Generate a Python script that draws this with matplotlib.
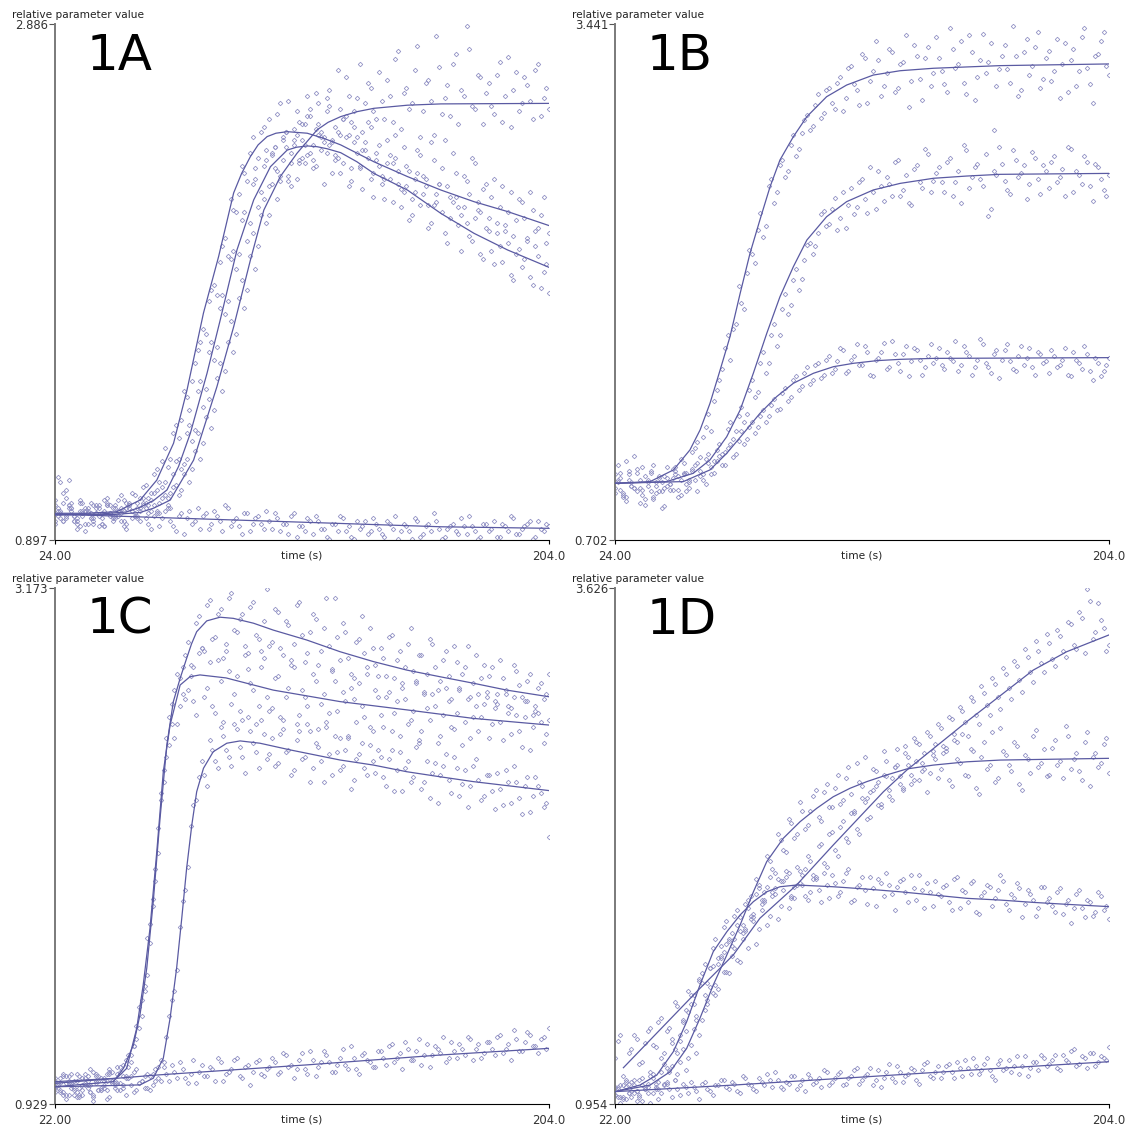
import matplotlib.pyplot as plt
import numpy as np

W, H = 1133, 1128
DOT = '#9494c6'
LINE = '#5a5aa2'

# sampling times of the measured points (even and odd seconds)
t_ab = np.arange(24, 205, 2)
t_ab2 = np.arange(25, 204, 2)
t_cd = np.arange(22, 205, 2)
t_cd2 = np.arange(23, 204, 2)

# ---- panel 1A: measured points ----
a0_pts = [1.05, 1.12, 1.09, 1.02, 0.98, 1.01, 0.96, 1.03, 0.99, 0.95, 1.00, 1.02, 0.97, 0.94, 1.01, 0.98, 1.03, 0.96, 0.99,
          0.95, 1.01, 0.97, 0.93, 1.00, 0.98, 0.96, 1.02, 0.99, 0.94, 1.01, 0.97, 1.03, 0.95, 0.98, 0.92, 1.00, 0.96, 0.99, 0.94,
          0.97, 1.00, 0.93, 0.96, 0.99, 0.91, 0.95, 0.98, 0.92, 0.97, 0.94, 0.90, 0.96, 0.99, 0.93, 0.91, 0.97, 0.95, 0.92, 0.98,
          0.94, 0.91, 0.96, 0.99, 0.93, 0.95, 0.90, 0.97, 0.92, 0.96, 1.00, 0.94, 0.91, 0.95, 0.93, 0.98, 0.92, 0.95, 0.90, 0.96,
          0.93, 0.97, 0.91, 0.95, 0.99, 0.92, 0.94, 0.96, 0.90, 0.97, 0.93, 0.95]
a0_pts2 = [1.14, 1.08, 1.13, 0.97, 1.04, 0.93, 1.00, 1.02, 0.96, 1.04, 0.98, 1.01, 0.95, 1.03, 0.99, 0.97, 1.02, 0.94, 1.00,
           0.98, 1.03, 0.95, 0.99, 0.92, 1.01, 0.97, 0.94, 1.00, 0.96, 0.99, 0.93, 1.02, 0.97, 0.95, 1.00, 0.93, 0.98, 0.96, 1.01,
           0.94, 0.98, 0.96, 0.92, 1.00, 0.95, 0.93, 0.97, 0.99, 0.94, 0.91, 0.96, 0.93, 0.98, 0.95, 0.90, 0.94, 0.97, 0.93, 0.96,
           0.92, 0.97, 0.94, 0.90, 0.96, 0.93, 0.98, 0.91, 0.95, 0.93, 0.97, 0.90, 0.94, 0.96, 0.92, 0.95, 0.99, 0.93, 0.91, 0.96,
           0.94, 0.91, 0.96, 0.93, 0.98, 0.92, 0.95, 0.97, 0.91, 0.94, 0.96]
a1_pts = [1.03, 0.98, 1.06, 1.01, 0.97, 1.04, 1.00, 0.96, 1.02, 1.05, 0.99, 1.03, 1.07, 1.02, 1.08, 1.04, 1.10, 1.06, 1.15,
          1.12, 1.25, 1.21, 1.34, 1.36, 1.45, 1.51, 1.63, 1.71, 1.82, 1.88, 1.97, 2.06, 2.21, 2.16, 2.34, 2.28, 2.45, 2.37, 2.49,
          2.52, 2.41, 2.58, 2.47, 2.39, 2.55, 2.44, 2.61, 2.36, 2.50, 2.43, 2.57, 2.38, 2.46, 2.53, 2.33, 2.45, 2.40, 2.51, 2.31,
          2.42, 2.29, 2.38, 2.46, 2.25, 2.34, 2.21, 2.40, 2.30, 2.19, 2.36, 2.27, 2.44, 2.22, 2.31, 2.15, 2.28, 2.37, 2.20, 2.25,
          2.14, 2.29, 2.18, 2.09, 2.24, 2.13, 2.20, 2.05, 2.17, 2.10, 2.22, 2.08]
a1_pts2 = [0.99, 1.04, 1.02, 0.97, 1.05, 1.01, 0.98, 1.03, 1.00, 1.06, 1.02, 0.99, 1.05, 1.03, 1.07, 1.01, 1.11, 1.08, 1.17,
           1.20, 1.18, 1.31, 1.29, 1.47, 1.40, 1.58, 1.66, 1.69, 1.86, 1.84, 2.03, 1.99, 2.17, 2.23, 2.31, 2.39, 2.33, 2.47, 2.40,
           2.38, 2.54, 2.45, 2.59, 2.42, 2.51, 2.35, 2.56, 2.48, 2.40, 2.60, 2.44, 2.37, 2.52, 2.46, 2.55, 2.34, 2.43, 2.49, 2.39,
           2.30, 2.44, 2.35, 2.27, 2.41, 2.32, 2.24, 2.38, 2.29, 2.43, 2.20, 2.33, 2.26, 2.39, 2.18, 2.30, 2.23, 2.35, 2.16, 2.27,
           2.22, 2.12, 2.26, 2.16, 2.07, 2.21, 2.14, 2.24, 2.09, 2.15, 2.04]
a2_pts = [0.97, 1.01, 0.99, 1.04, 0.96, 1.00, 1.02, 0.98, 0.95, 1.01, 1.03, 0.99, 1.00, 1.04, 0.98, 1.02, 1.06, 1.03, 1.08,
          1.04, 1.12, 1.08, 1.20, 1.17, 1.31, 1.28, 1.47, 1.41, 1.62, 1.59, 1.79, 1.77, 1.98, 1.94, 2.13, 2.05, 2.27, 2.18, 2.34,
          2.26, 2.41, 2.30, 2.47, 2.35, 2.29, 2.50, 2.38, 2.33, 2.46, 2.27, 2.42, 2.36, 2.31, 2.45, 2.28, 2.39, 2.25, 2.37, 2.22,
          2.34, 2.21, 2.29, 2.37, 2.18, 2.26, 2.15, 2.31, 2.23, 2.10, 2.19, 2.27, 2.08, 2.14, 2.22, 2.01, 2.12, 2.05, 2.17, 1.98,
          2.09, 1.96, 2.03, 2.11, 1.92, 2.00, 1.95, 2.06, 1.88, 1.99, 1.93, 1.85]
a2_pts2 = [1.02, 0.97, 1.03, 0.99, 1.01, 0.96, 1.04, 1.00, 0.98, 1.03, 0.97, 1.05, 1.01, 1.02, 0.99, 1.06, 1.04, 1.01, 1.09,
           1.10, 1.06, 1.15, 1.21, 1.19, 1.34, 1.32, 1.51, 1.48, 1.66, 1.64, 1.84, 1.82, 2.01, 2.00, 2.16, 2.12, 2.29, 2.24, 2.36,
           2.39, 2.32, 2.44, 2.28, 2.48, 2.36, 2.42, 2.53, 2.34, 2.45, 2.39, 2.31, 2.47, 2.35, 2.26, 2.43, 2.33, 2.40, 2.29, 2.36,
           2.27, 2.35, 2.20, 2.32, 2.24, 2.13, 2.29, 2.19, 2.26, 2.12, 2.23, 2.16, 2.04, 2.20, 2.11, 2.18, 2.07, 2.14, 2.00, 2.10,
           2.01, 2.08, 1.97, 2.04, 1.90, 2.02, 1.98, 1.91, 2.03, 1.87, 1.96]
a3_pts = [0.96, 1.00, 0.98, 1.02, 0.94, 0.99, 1.01, 0.97, 1.03, 0.95, 1.00, 0.98, 1.02, 0.96, 1.01, 0.99, 1.04, 1.00, 1.03,
          1.00, 1.07, 1.02, 1.11, 1.09, 1.21, 1.17, 1.31, 1.27, 1.44, 1.40, 1.58, 1.55, 1.74, 1.69, 1.90, 1.86, 2.08, 2.03, 2.21,
          2.15, 2.33, 2.28, 2.41, 2.26, 2.46, 2.37, 2.53, 2.42, 2.58, 2.45, 2.63, 2.49, 2.56, 2.68, 2.51, 2.60, 2.47, 2.66, 2.55,
          2.70, 2.52, 2.61, 2.75, 2.48, 2.64, 2.58, 2.80, 2.55, 2.67, 2.46, 2.72, 2.60, 2.53, 2.77, 2.63, 2.88, 2.57, 2.69, 2.50,
          2.66, 2.54, 2.74, 2.61, 2.49, 2.70, 2.58, 2.65, 2.52, 2.73, 2.60, 2.56]
a3_pts2 = [1.01, 0.97, 1.03, 0.99, 0.95, 1.02, 0.98, 1.00, 0.96, 1.03, 0.99, 1.01, 0.97, 1.04, 1.00, 1.02, 0.98, 1.05, 1.01,
           1.06, 1.02, 1.10, 1.07, 1.15, 1.12, 1.24, 1.21, 1.37, 1.33, 1.52, 1.47, 1.66, 1.62, 1.83, 1.79, 1.99, 1.94, 2.15, 2.12,
           2.27, 2.21, 2.36, 2.30, 2.44, 2.35, 2.50, 2.39, 2.62, 2.47, 2.55, 2.43, 2.71, 2.52, 2.61, 2.49, 2.73, 2.58, 2.64, 2.52,
           2.59, 2.67, 2.51, 2.78, 2.62, 2.56, 2.71, 2.45, 2.66, 2.59, 2.84, 2.54, 2.65, 2.73, 2.50, 2.61, 2.79, 2.56, 2.68, 2.62,
           2.57, 2.69, 2.51, 2.76, 2.63, 2.55, 2.68, 2.59, 2.71, 2.53, 2.64]

# ---- panel 1A: fitted curves ----
a0_fit_t = [24, 63.5, 116, 164.6, 204]
a0_fit_v = [0.997, 0.983, 0.965, 0.948, 0.942]
a1_fit_t = [24, 35, 46.5, 55, 61.1, 67.2, 72.1, 78.1, 83.6, 89.1, 92, 95.2, 98, 101.3, 104.5, 108.6, 115.9, 122, 128.1, 140.2, 152.4, 164.6, 176.7, 188.9, 204]
a1_fit_v = [1.000, 1.000, 1.006, 1.051, 1.128, 1.27, 1.475, 1.772, 1.989, 2.235, 2.31, 2.375, 2.42, 2.452, 2.465, 2.471, 2.465, 2.445, 2.420, 2.355, 2.298, 2.246, 2.201, 2.163, 2.109]
a2_fit_t = [24, 40, 50, 55, 60, 64.8, 69, 73.3, 79.4, 84.2, 90.3, 96.4, 102.5, 108.6, 112, 115.9, 119.5, 123.2, 128.1, 134, 140.2, 152.4, 164.6, 176.7, 188.9, 204]
a2_fit_v = [0.995, 0.997, 1.005, 1.023, 1.05, 1.090, 1.18, 1.308, 1.540, 1.745, 2.015, 2.208, 2.336, 2.400, 2.411, 2.416, 2.413, 2.405, 2.39, 2.355, 2.31, 2.246, 2.156, 2.079, 2.015, 1.948]
a3_fit_t = [24, 45, 55, 60, 66.0, 74.5, 83.0, 89.1, 95.2, 100.1, 106.1, 112.2, 119.5, 123.5, 128.1, 134, 140.2, 152.4, 164.6, 204]
a3_fit_v = [0.993, 0.995, 1.003, 1.02, 1.051, 1.205, 1.488, 1.719, 1.976, 2.169, 2.298, 2.388, 2.478, 2.507, 2.529, 2.548, 2.561, 2.573, 2.578, 2.580]

# ---- panel 1B: measured points ----
b1_pts = [1.05, 0.97, 1.12, 0.99, 1.08, 0.94, 1.02, 1.10, 0.96, 1.04, 1.00, 1.07, 1.13, 1.06, 1.17, 1.22, 1.25, 1.37, 1.44,
          1.55, 1.72, 1.66, 1.85, 1.96, 2.12, 2.22, 2.35, 2.31, 2.58, 2.49, 2.69, 2.63, 2.80, 2.74, 2.86, 2.96, 2.90, 3.07, 2.97,
          3.10, 2.99, 3.16, 3.05, 3.22, 3.09, 3.28, 3.02, 3.19, 3.25, 3.11, 3.31, 3.08, 3.23, 3.38, 3.14, 3.27, 3.04, 3.32, 3.18,
          3.26, 3.12, 3.42, 3.21, 3.35, 3.07, 3.29, 3.16, 3.39, 3.24, 2.88, 3.20, 3.33, 3.13, 3.27, 3.09, 3.36, 3.22, 3.40, 3.15,
          3.30, 3.19, 3.05, 3.34, 3.25, 3.11, 3.37, 3.21, 3.02, 3.28, 3.40, 3.17]
b1_pts2 = [1.10, 0.93, 1.02, 1.15, 0.98, 0.89, 1.06, 0.95, 1.01, 1.09, 0.97, 1.04, 1.11, 1.02, 1.19, 1.14, 1.30, 1.28, 1.50,
           1.61, 1.79, 1.82, 2.05, 1.93, 2.24, 2.17, 2.44, 2.37, 2.62, 2.55, 2.72, 2.66, 2.85, 2.78, 2.93, 2.88, 3.01, 2.94, 3.09,
           3.02, 3.13, 2.98, 3.21, 3.12, 3.01, 3.26, 3.14, 3.35, 3.06, 3.18, 3.29, 3.10, 3.24, 3.00, 3.33, 3.15, 3.26, 3.11, 3.37,
           3.19, 3.08, 3.31, 3.23, 3.13, 3.38, 3.04, 3.25, 3.18, 3.34, 3.11, 3.27, 3.20, 3.43, 3.06, 3.29, 3.17, 3.32, 3.10, 3.26,
           3.14, 3.36, 3.23, 3.08, 3.31, 3.19, 3.42, 3.12, 3.27, 3.35, 3.22]
b2_pts = [0.95, 1.03, 0.91, 0.99, 1.06, 0.97, 1.01, 0.93, 1.04, 0.98, 1.00, 1.09, 1.02, 0.96, 1.07, 1.11, 1.05, 1.16, 1.12,
          1.21, 1.17, 1.33, 1.28, 1.41, 1.37, 1.55, 1.49, 1.70, 1.64, 1.85, 1.79, 2.01, 1.95, 2.14, 2.09, 2.27, 2.22, 2.33, 2.45,
          2.38, 2.52, 2.41, 2.36, 2.57, 2.47, 2.62, 2.44, 2.55, 2.66, 2.50, 2.59, 2.71, 2.53, 2.64, 2.48, 2.69, 2.57, 2.75, 2.61,
          2.68, 2.55, 2.73, 2.60, 2.49, 2.77, 2.63, 2.70, 2.58, 2.42, 2.66, 2.79, 2.61, 2.54, 2.72, 2.65, 2.51, 2.76, 2.62, 2.69,
          2.57, 2.74, 2.63, 2.53, 2.78, 2.66, 2.59, 2.71, 2.50, 2.68, 2.56, 2.64]
b2_pts2 = [1.01, 0.94, 1.05, 0.98, 1.02, 0.92, 1.07, 0.99, 0.96, 1.03, 1.08, 0.97, 1.05, 1.01, 1.10, 1.04, 1.13, 1.09, 1.18,
           1.16, 1.29, 1.24, 1.36, 1.33, 1.50, 1.46, 1.64, 1.59, 1.79, 1.73, 1.93, 1.90, 2.08, 2.03, 2.19, 2.28, 2.26, 2.43, 2.37,
           2.46, 2.35, 2.55, 2.48, 2.43, 2.60, 2.51, 2.68, 2.46, 2.58, 2.63, 2.53, 2.72, 2.56, 2.49, 2.67, 2.60, 2.78, 2.55, 2.65,
           2.60, 2.71, 2.53, 2.66, 2.80, 2.57, 2.68, 2.62, 2.75, 2.46, 2.64, 2.70, 2.56, 2.77, 2.63, 2.69, 2.59, 2.73, 2.54, 2.66,
           2.71, 2.60, 2.67, 2.79, 2.55, 2.64, 2.74, 2.58, 2.70, 2.62, 2.53]
b3_pts = [0.98, 1.06, 0.93, 1.01, 0.96, 1.09, 0.99, 0.92, 1.03, 0.88, 0.97, 1.05, 0.94, 1.00, 1.08, 0.96, 1.02, 1.11, 1.06,
          1.15, 1.10, 1.21, 1.16, 1.28, 1.24, 1.33, 1.30, 1.39, 1.36, 1.45, 1.40, 1.51, 1.46, 1.57, 1.52, 1.62, 1.55, 1.64, 1.58,
          1.68, 1.61, 1.72, 1.59, 1.66, 1.74, 1.63, 1.70, 1.57, 1.67, 1.75, 1.62, 1.69, 1.60, 1.73, 1.65, 1.71, 1.58, 1.68, 1.64,
          1.72, 1.61, 1.67, 1.76, 1.63, 1.70, 1.58, 1.66, 1.74, 1.62, 1.69, 1.56, 1.71, 1.65, 1.60, 1.73, 1.67, 1.62, 1.70, 1.64,
          1.59, 1.68, 1.63, 1.72, 1.57, 1.66, 1.61, 1.69, 1.55, 1.64, 1.60, 1.67]
b3_pts2 = [1.02, 0.95, 1.07, 0.98, 0.90, 1.04, 0.96, 1.01, 0.87, 0.99, 1.03, 0.93, 1.06, 0.98, 1.02, 1.07, 1.00, 1.05, 1.12,
           1.10, 1.19, 1.14, 1.23, 1.21, 1.30, 1.27, 1.36, 1.33, 1.42, 1.39, 1.48, 1.44, 1.55, 1.50, 1.59, 1.53, 1.63, 1.56, 1.66,
           1.59, 1.65, 1.71, 1.60, 1.68, 1.63, 1.73, 1.58, 1.66, 1.70, 1.61, 1.76, 1.64, 1.69, 1.57, 1.72, 1.66, 1.62, 1.74, 1.67,
           1.63, 1.70, 1.65, 1.60, 1.73, 1.68, 1.62, 1.77, 1.64, 1.59, 1.71, 1.66, 1.74, 1.61, 1.68, 1.63, 1.72, 1.58, 1.69, 1.65,
           1.71, 1.62, 1.66, 1.58, 1.70, 1.64, 1.73, 1.60, 1.67, 1.57, 1.63]

# ---- panel 1B: fitted curves ----
b1_fit_t = [24, 36.8, 45.3, 51.3, 55.0, 58.6, 62.3, 65.9, 69.6, 73.2, 76.8, 80.5, 84.1, 89.0, 93.9, 101.1, 108.4, 118.1, 127.9, 140.0, 164.3, 204]
b1_fit_v = [1.003, 1.012, 1.074, 1.18, 1.286, 1.427, 1.604, 1.781, 2.011, 2.224, 2.401, 2.577, 2.719, 2.843, 2.949, 3.055, 3.117, 3.170, 3.193, 3.206, 3.220, 3.229]
b2_fit_t = [24, 42.8, 52.5, 58.6, 64.7, 69.6, 74.4, 79.3, 84.1, 89.0, 93.9, 101.1, 108.4, 118.1, 127.9, 140.0, 152.2, 164.3, 204]
b2_fit_v = [1.003, 1.012, 1.056, 1.127, 1.250, 1.392, 1.587, 1.799, 1.993, 2.153, 2.294, 2.418, 2.498, 2.560, 2.595, 2.622, 2.634, 2.643, 2.648]
b3_fit_t = [24, 48.9, 58.6, 64.7, 70.8, 76.8, 82.9, 89.0, 96.3, 103.6, 110.9, 119.4, 127.9, 140.0, 204]
b3_fit_v = [1.003, 1.012, 1.074, 1.162, 1.268, 1.374, 1.463, 1.534, 1.587, 1.622, 1.640, 1.654, 1.661, 1.666, 1.670]

# ---- panel 1C: measured points ----
c0_pts = [1.04, 0.99, 1.02, 1.06, 0.98, 1.01, 1.05, 0.97, 1.03, 1.00, 1.07, 1.02, 0.99, 1.05, 1.01, 1.08, 1.03, 1.00, 1.06, 1.04,
          1.09, 1.03, 1.07, 1.11, 1.04, 1.06, 1.02, 1.10, 1.05, 1.08, 1.13, 1.03, 1.07, 1.12, 1.05, 1.09, 1.01, 1.11, 1.06, 1.08,
          1.13, 1.06, 1.15, 1.09, 1.04, 1.12, 1.08, 1.16, 1.05, 1.11, 1.14, 1.07, 1.10, 1.17, 1.08, 1.13, 1.06, 1.15, 1.11, 1.09,
          1.16, 1.10, 1.19, 1.13, 1.08, 1.17, 1.12, 1.21, 1.14, 1.09, 1.18, 1.15, 1.11, 1.20, 1.13, 1.17, 1.22, 1.12, 1.19, 1.15,
          1.20, 1.14, 1.23, 1.17, 1.12, 1.21, 1.16, 1.24, 1.18, 1.15, 1.22, 1.26]
c0_pts2 = [1.01, 1.05, 0.97, 1.03, 1.00, 1.06, 0.98, 1.02, 1.04, 0.99, 1.03, 1.06, 1.00, 1.04, 1.07, 1.02, 1.05, 0.99, 1.08, 1.03,
           1.06, 1.10, 1.04, 1.08, 1.02, 1.12, 1.07, 1.05, 1.09, 1.03, 1.11, 1.06, 1.08, 1.13, 1.04, 1.10, 1.07, 1.12, 1.05, 1.09,
           1.11, 1.07, 1.14, 1.10, 1.08, 1.15, 1.06, 1.12, 1.09, 1.16, 1.11, 1.07, 1.13, 1.10, 1.18, 1.08, 1.14, 1.12, 1.09, 1.16,
           1.13, 1.18, 1.11, 1.15, 1.20, 1.12, 1.16, 1.10, 1.19, 1.14, 1.17, 1.22, 1.13, 1.16, 1.19, 1.14, 1.21, 1.17, 1.13, 1.20,
           1.17, 1.22, 1.15, 1.19, 1.25, 1.16, 1.20, 1.23, 1.18, 1.21, 1.17]
c1_pts = [1.00, 1.04, 0.97, 1.02, 1.06, 0.99, 1.03, 0.96, 1.05, 1.01, 1.08, 1.03, 1.07, 1.12, 1.14, 1.21, 1.31, 1.49, 1.82, 2.02,
          2.38, 2.49, 2.73, 2.66, 2.88, 2.79, 3.02, 2.91, 3.10, 2.95, 3.06, 2.87, 3.13, 2.99, 3.04, 2.92, 3.09, 2.97, 2.90, 3.17,
          2.94, 3.07, 2.88, 3.01, 2.93, 3.11, 2.85, 2.98, 3.04, 2.90, 3.13, 2.82, 2.96, 3.02, 2.87, 2.78, 2.95, 2.89, 3.00, 2.84,
          2.91, 2.79, 2.97, 2.86, 2.74, 2.93, 2.81, 2.88, 2.72, 2.95, 2.83, 2.77, 2.90, 2.69, 2.85, 2.80, 2.92, 2.76, 2.71, 2.84,
          2.79, 2.68, 2.86, 2.73, 2.65, 2.81, 2.70, 2.77, 2.62, 2.74, 2.69, 2.80]
c1_pts2 = [1.02, 0.98, 1.05, 1.00, 0.97, 1.04, 1.01, 1.06, 0.99, 1.03, 1.07, 1.02, 1.10, 1.09, 1.18, 1.26, 1.42, 1.63, 1.95, 2.25,
           2.52, 2.58, 2.80, 2.71, 2.94, 2.83, 3.05, 2.90, 3.12, 2.96, 3.08, 2.93, 3.15, 2.98, 3.06, 2.89, 3.11, 2.95, 3.03, 2.92,
           3.08, 2.91, 3.03, 2.86, 3.10, 2.97, 2.89, 3.06, 2.84, 3.00, 2.92, 3.13, 2.86, 2.98, 2.80, 2.94, 3.05, 2.83, 2.91, 2.79,
           2.87, 2.96, 2.78, 2.90, 2.83, 3.00, 2.76, 2.88, 2.80, 2.93, 2.73, 2.86, 2.79, 2.92, 2.74, 2.83, 2.70, 2.88, 2.78, 2.72,
           2.83, 2.71, 2.78, 2.66, 2.84, 2.75, 2.68, 2.80, 2.64, 2.76, 2.71]
c2_pts = [1.03, 0.98, 1.05, 1.01, 0.96, 1.04, 1.00, 1.07, 0.99, 1.03, 1.06, 1.01, 1.09, 1.04, 1.11, 1.27, 1.38, 1.65, 1.79, 2.13,
          2.33, 2.61, 2.52, 2.78, 2.69, 2.84, 2.62, 2.91, 2.74, 2.66, 2.86, 2.59, 2.81, 2.71, 2.64, 2.88, 2.76, 2.58, 2.83, 2.70,
          2.65, 2.79, 2.60, 2.74, 2.83, 2.62, 2.70, 2.55, 2.77, 2.67, 2.59, 2.81, 2.64, 2.72, 2.53, 2.69, 2.76, 2.61, 2.57, 2.73,
          2.62, 2.70, 2.55, 2.68, 2.76, 2.58, 2.64, 2.51, 2.71, 2.60, 2.66, 2.53, 2.74, 2.57, 2.63, 2.49, 2.69, 2.61, 2.55, 2.67,
          2.52, 2.65, 2.59, 2.71, 2.54, 2.62, 2.48, 2.68, 2.57, 2.63, 2.50, 2.60]
c2_pts2 = [1.00, 1.06, 1.02, 0.97, 1.05, 1.01, 1.08, 1.03, 0.99, 1.06, 1.02, 1.09, 1.05, 1.14, 1.18, 1.35, 1.44, 1.71, 1.90, 2.28,
           2.44, 2.67, 2.58, 2.83, 2.73, 2.68, 2.89, 2.70, 2.85, 2.63, 2.77, 2.90, 2.67, 2.79, 2.60, 2.82, 2.73, 2.66, 2.87, 2.64,
           2.78, 2.61, 2.70, 2.84, 2.58, 2.73, 2.66, 2.80, 2.56, 2.71, 2.63, 2.77, 2.52, 2.68, 2.74, 2.59, 2.66, 2.80, 2.55, 2.70,
           2.57, 2.72, 2.63, 2.53, 2.69, 2.60, 2.77, 2.55, 2.65, 2.71, 2.50, 2.62, 2.68, 2.56, 2.73, 2.59, 2.52, 2.66, 2.61, 2.70,
           2.58, 2.67, 2.51, 2.63, 2.70, 2.55, 2.61, 2.47, 2.66, 2.59, 2.54]
c3_pts = [0.98, 1.02, 0.95, 1.00, 1.03, 0.97, 1.01, 0.94, 0.99, 1.04, 0.96, 1.00, 1.02, 0.97, 1.05, 0.99, 1.03, 1.06, 1.01, 1.09,
          1.11, 1.31, 1.42, 1.70, 1.86, 2.14, 2.25, 2.42, 2.31, 2.47, 2.39, 2.53, 2.44, 2.58, 2.48, 2.37, 2.55, 2.46, 2.60, 2.43,
          2.52, 2.41, 2.56, 2.47, 2.38, 2.55, 2.44, 2.33, 2.50, 2.42, 2.57, 2.36, 2.46, 2.40, 2.52, 2.34, 2.45, 2.39, 2.49, 2.37,
          2.44, 2.31, 2.47, 2.38, 2.29, 2.42, 2.35, 2.50, 2.33, 2.26, 2.41, 2.36, 2.45, 2.28, 2.39, 2.32, 2.22, 2.40, 2.34, 2.27,
          2.36, 2.21, 2.30, 2.38, 2.24, 2.33, 2.19, 2.35, 2.27, 2.31, 2.22, 2.09]
c3_pts2 = [1.01, 0.97, 1.03, 0.99, 0.96, 1.02, 0.98, 1.05, 1.00, 0.95, 1.03, 0.99, 1.01, 1.04, 0.98, 1.02, 1.00, 1.05, 1.03, 1.12,
           1.22, 1.38, 1.51, 1.81, 1.96, 2.23, 2.35, 2.36, 2.51, 2.42, 2.57, 2.47, 2.40, 2.56, 2.44, 2.61, 2.50, 2.39, 2.54, 2.45,
           2.40, 2.54, 2.46, 2.36, 2.51, 2.43, 2.58, 2.39, 2.48, 2.33, 2.45, 2.53, 2.38, 2.47, 2.30, 2.43, 2.50, 2.36, 2.42, 2.47,
           2.35, 2.43, 2.29, 2.46, 2.39, 2.33, 2.48, 2.30, 2.42, 2.37, 2.24, 2.40, 2.34, 2.44, 2.27, 2.38, 2.31, 2.43, 2.25, 2.36,
           2.29, 2.37, 2.23, 2.33, 2.40, 2.26, 2.31, 2.20, 2.35, 2.28, 2.24]

# ---- panel 1C: fitted curves ----
c0_fit_t = [22, 59.5, 114.7, 163.9, 204]
c0_fit_v = [1.019, 1.055, 1.099, 1.142, 1.171]
c1_fit_t = [22, 43.5, 47.2, 50.9, 53.3, 55.8, 58.2, 60.7, 63.2, 65.6, 68.1, 70.5, 72.3, 74.2, 77.9, 82.8, 87.7, 95.1, 102.4, 114.7, 127.0, 139.3, 151.6, 163.9, 176.1, 188.4, 204]
c1_fit_v = [1.004, 1.026, 1.084, 1.186, 1.316, 1.519, 1.809, 2.171, 2.490, 2.679, 2.780, 2.867, 2.93, 2.983, 3.030, 3.046, 3.041, 3.020, 2.990, 2.947, 2.896, 2.853, 2.816, 2.787, 2.759, 2.729, 2.700]
c2_fit_t = [22, 44.7, 48.4, 52.1, 54.5, 57.0, 59.5, 61.9, 64.4, 68.1, 71.7, 75.4, 85, 102.4, 127.0, 151.6, 176.1, 204]
c2_fit_v = [1.026, 1.041, 1.084, 1.258, 1.447, 1.693, 2.026, 2.374, 2.577, 2.751, 2.787, 2.795, 2.782, 2.729, 2.679, 2.643, 2.606, 2.577]
c3_fit_t = [22, 53.3, 58.2, 61.9, 64.4, 66.8, 68.7, 70.5, 72.4, 74.2, 76.7, 80.3, 85.3, 90.2, 97.5, 108.6, 127.0, 139.3, 151.6, 163.9, 176.1, 204]
c3_fit_v = [1.004, 1.012, 1.041, 1.128, 1.302, 1.519, 1.737, 1.954, 2.142, 2.287, 2.389, 2.461, 2.498, 2.508, 2.498, 2.469, 2.425, 2.403, 2.374, 2.352, 2.331, 2.292]

# ---- panel 1D: measured points ----
d0_pts = [1.00, 0.96, 1.04, 0.99, 1.02, 0.97, 1.06, 1.01, 0.98, 1.05, 1.03, 1.08, 1.00, 1.04, 1.07, 1.02, 1.06, 1.03, 1.00, 1.05,
          1.08, 1.03, 1.06, 1.01, 1.09, 1.05, 1.02, 1.07, 1.11, 1.04, 1.08, 1.03, 1.06, 1.10, 1.05, 1.02, 1.09, 1.07, 1.04, 1.12,
          1.07, 1.11, 1.05, 1.09, 1.13, 1.06, 1.10, 1.14, 1.08, 1.04, 1.12, 1.09, 1.15, 1.07, 1.11, 1.13, 1.06, 1.16, 1.10, 1.12,
          1.09, 1.15, 1.12, 1.17, 1.10, 1.14, 1.19, 1.11, 1.16, 1.13, 1.08, 1.18, 1.14, 1.12, 1.20, 1.15, 1.10, 1.17, 1.13, 1.19,
          1.16, 1.21, 1.13, 1.18, 1.23, 1.15, 1.20, 1.14, 1.22, 1.17, 1.19, 1.25]
d0_pts2 = [1.03, 0.98, 1.01, 1.05, 0.99, 1.03, 0.96, 1.04, 1.01, 1.07, 0.99, 1.03, 1.06, 1.01, 1.04, 0.98, 1.07, 1.02, 1.05, 1.08,
           1.04, 1.07, 1.02, 1.10, 1.06, 1.03, 1.09, 1.05, 1.08, 1.12, 1.04, 1.07, 1.10, 1.03, 1.08, 1.11, 1.06, 1.09, 1.13, 1.05,
           1.09, 1.12, 1.06, 1.10, 1.14, 1.08, 1.11, 1.05, 1.13, 1.09, 1.16, 1.07, 1.12, 1.10, 1.14, 1.08, 1.13, 1.17, 1.09, 1.15,
           1.12, 1.16, 1.09, 1.14, 1.18, 1.11, 1.15, 1.13, 1.19, 1.10, 1.16, 1.13, 1.18, 1.15, 1.11, 1.20, 1.14, 1.17, 1.21, 1.15,
           1.18, 1.14, 1.21, 1.17, 1.24, 1.16, 1.19, 1.22, 1.15, 1.20, 1.18]
d1_pts = [1.19, 1.31, 1.08, 1.24, 1.29, 1.17, 1.33, 1.26, 1.38, 1.22, 1.35, 1.48, 1.31, 1.44, 1.52, 1.39, 1.58, 1.49, 1.67, 1.55,
          1.74, 1.63, 1.81, 1.69, 1.86, 1.93, 1.78, 1.99, 1.88, 2.05, 1.91, 2.11, 1.97, 2.08, 2.16, 2.03, 2.21, 2.12, 2.30, 2.18,
          2.36, 2.24, 2.42, 2.31, 2.47, 2.35, 2.52, 2.44, 2.60, 2.49, 2.65, 2.53, 2.71, 2.58, 2.75, 2.63, 2.82, 2.69, 2.86, 2.74,
          2.90, 2.78, 2.95, 2.83, 2.99, 2.86, 3.04, 2.92, 3.08, 2.97, 3.13, 3.00, 3.18, 3.05, 3.22, 3.09, 3.27, 3.14, 3.30, 3.19,
          3.34, 3.22, 3.38, 3.27, 3.44, 3.31, 3.47, 3.62, 3.36, 3.55, 3.42, 3.33]
d1_pts2 = [1.28, 1.10, 1.22, 1.31, 1.16, 1.27, 1.35, 1.25, 1.40, 1.33, 1.29, 1.46, 1.39, 1.54, 1.47, 1.60, 1.52, 1.66, 1.57, 1.72,
           1.64, 1.77, 1.70, 1.84, 1.76, 1.92, 1.86, 2.01, 1.93, 2.07, 1.98, 2.13, 2.02, 2.18, 2.09, 2.24, 2.14, 2.29, 2.20, 2.35,
           2.27, 2.39, 2.33, 2.46, 2.38, 2.54, 2.43, 2.58, 2.50, 2.66, 2.55, 2.70, 2.61, 2.77, 2.66, 2.83, 2.72, 2.88, 2.78, 2.92,
           2.81, 2.96, 2.87, 3.01, 2.93, 3.06, 2.97, 3.12, 3.02, 3.16, 3.06, 3.21, 3.11, 3.25, 3.15, 3.31, 3.19, 3.35, 3.24, 3.39,
           3.26, 3.41, 3.30, 3.45, 3.33, 3.50, 3.29, 3.56, 3.40, 3.46, 3.30]
d2_pts = [1.04, 0.99, 1.07, 1.02, 0.97, 1.05, 1.01, 1.09, 1.03, 1.06, 1.12, 1.08, 1.17, 1.13, 1.26, 1.22, 1.39, 1.47, 1.53, 1.68,
          1.64, 1.81, 1.76, 1.92, 1.85, 2.03, 2.12, 2.01, 2.24, 2.17, 2.35, 2.27, 2.43, 2.33, 2.52, 2.38, 2.47, 2.58, 2.42, 2.61,
          2.49, 2.66, 2.53, 2.70, 2.46, 2.62, 2.75, 2.57, 2.68, 2.51, 2.73, 2.64, 2.79, 2.59, 2.71, 2.85, 2.63, 2.77, 2.67, 2.82,
          2.69, 2.80, 2.60, 2.74, 2.87, 2.65, 2.78, 2.56, 2.83, 2.71, 2.62, 2.90, 2.76, 2.68, 2.81, 2.58, 2.74, 2.86, 2.70, 2.79,
          2.66, 2.84, 2.73, 2.91, 2.69, 2.77, 2.63, 2.88, 2.75, 2.70, 2.82, 2.67]
d2_pts2 = [0.99, 1.05, 1.01, 1.08, 1.00, 1.04, 1.10, 1.03, 1.12, 1.06, 1.15, 1.11, 1.24, 1.19, 1.34, 1.31, 1.44, 1.56, 1.52, 1.71,
           1.78, 1.72, 1.88, 1.81, 1.97, 1.90, 2.09, 2.05, 2.21, 2.15, 2.32, 2.26, 2.41, 2.35, 2.47, 2.40, 2.55, 2.44, 2.57, 2.49,
           2.59, 2.51, 2.64, 2.56, 2.72, 2.60, 2.54, 2.69, 2.62, 2.78, 2.58, 2.70, 2.65, 2.81, 2.61, 2.73, 2.68, 2.57, 2.76, 2.64,
           2.77, 2.63, 2.84, 2.72, 2.66, 2.79, 2.59, 2.75, 2.69, 2.88, 2.64, 2.78, 2.71, 2.83, 2.61, 2.76, 2.67, 2.89, 2.72, 2.65,
           2.80, 2.71, 2.64, 2.86, 2.74, 2.68, 2.83, 2.60, 2.77, 2.72, 2.85]
d3_pts = [1.00, 1.05, 0.98, 1.07, 1.02, 1.09, 1.04, 1.11, 1.07, 1.16, 1.13, 1.24, 1.28, 1.33, 1.47, 1.41, 1.63, 1.58, 1.76, 1.71,
          1.87, 1.80, 1.93, 1.85, 1.99, 1.91, 2.04, 1.96, 2.08, 2.03, 2.12, 2.06, 2.15, 2.02, 2.10, 2.17, 2.05, 2.13, 2.00, 2.09,
          2.14, 2.03, 2.11, 2.17, 2.01, 2.09, 2.06, 2.13, 1.98, 2.10, 2.15, 2.04, 2.08, 2.12, 2.00, 2.07, 2.14, 1.97, 2.05, 2.11,
          2.03, 2.09, 1.96, 2.13, 2.06, 2.00, 2.11, 1.94, 2.05, 2.08, 2.02, 2.14, 1.99, 2.04, 2.10, 1.92, 2.06, 2.01, 1.97, 2.08,
          2.02, 1.95, 2.07, 1.99, 1.89, 2.04, 1.97, 2.01, 1.93, 2.05, 1.96, 1.91]
d3_pts2 = [1.04, 0.99, 1.06, 1.01, 1.08, 1.03, 1.12, 1.06, 1.19, 1.14, 1.27, 1.22, 1.38, 1.43, 1.52, 1.59, 1.68, 1.66, 1.81, 1.77,
           1.90, 1.84, 1.96, 1.88, 2.01, 1.94, 2.07, 2.00, 2.13, 2.04, 2.11, 2.16, 2.03, 2.09, 2.14, 2.01, 2.12, 2.06, 2.15, 2.02,
           2.10, 2.05, 2.15, 2.00, 2.08, 2.13, 1.99, 2.07, 2.12, 2.03, 2.09, 1.96, 2.11, 2.05, 2.14, 2.01, 2.06, 2.10, 1.98, 2.04,
           2.08, 2.00, 2.12, 1.97, 2.05, 2.10, 1.95, 2.03, 2.09, 1.98, 2.06, 2.11, 1.96, 2.02, 2.07, 1.99, 2.04, 1.93, 2.08, 2.00,
           1.98, 2.05, 1.94, 2.01, 1.97, 2.06, 1.92, 2.00, 1.95, 2.03, 1.98]

# ---- panel 1D: fitted curves ----
d0_fit_t = [22, 65.6, 114.7, 163.9, 204]
d0_fit_v = [1.018, 1.052, 1.095, 1.139, 1.173]
d1_fit_t = [25.1, 53.3, 65.6, 75.4, 88.9, 102.4, 120.9, 129.5, 151.6, 176.1, 188.4, 204]
d1_fit_v = [1.142, 1.553, 1.726, 1.916, 2.088, 2.295, 2.571, 2.683, 2.934, 3.201, 3.296, 3.383]
d2_fit_t = [22, 34.9, 42.3, 48.4, 53.3, 58.2, 63.2, 68.1, 73.0, 77.9, 84.0, 90.2, 96.3, 102.4, 108.6, 114.7, 122.1, 129.5, 139.3, 151.6, 163.9, 204]
d2_fit_v = [1.018, 1.052, 1.121, 1.242, 1.398, 1.570, 1.726, 1.881, 2.053, 2.209, 2.330, 2.416, 2.485, 2.545, 2.589, 2.623, 2.658, 2.689, 2.709, 2.726, 2.735, 2.744]
d3_fit_t = [22, 31.2, 37.4, 43.5, 48.4, 53.3, 58.2, 63.2, 68.1, 73.0, 77.9, 82.8, 88.9, 102.4, 114.7, 127.0, 139.3, 151.6, 163.9, 176.1, 188.4, 204]
d3_fit_v = [1.018, 1.052, 1.104, 1.225, 1.380, 1.570, 1.743, 1.846, 1.933, 2.002, 2.053, 2.079, 2.088, 2.079, 2.067, 2.053, 2.036, 2.019, 2.010, 1.998, 1.988, 1.976]

panels = [
    dict(name='1A', box=(55, 24, 549, 540), xr=(24, 204), yr=(0.897, 2.886), xl=('24.00', '204.0'),
         t=(t_ab, t_ab2), pts=[(a0_pts, a0_pts2), (a1_pts, a1_pts2), (a2_pts, a2_pts2), (a3_pts, a3_pts2)],
         fits=[(a0_fit_t, a0_fit_v), (a1_fit_t, a1_fit_v), (a2_fit_t, a2_fit_v), (a3_fit_t, a3_fit_v)]),
    dict(name='1B', box=(615, 24, 1109, 540), xr=(24, 204), yr=(0.702, 3.441), xl=('24.00', '204.0'),
         t=(t_ab, t_ab2), pts=[(b1_pts, b1_pts2), (b2_pts, b2_pts2), (b3_pts, b3_pts2)],
         fits=[(b1_fit_t, b1_fit_v), (b2_fit_t, b2_fit_v), (b3_fit_t, b3_fit_v)]),
    dict(name='1C', box=(55, 588, 549, 1104), xr=(22, 204), yr=(0.929, 3.173), xl=('22.00', '204.0'),
         t=(t_cd, t_cd2), pts=[(c0_pts, c0_pts2), (c1_pts, c1_pts2), (c2_pts, c2_pts2), (c3_pts, c3_pts2)],
         fits=[(c0_fit_t, c0_fit_v), (c1_fit_t, c1_fit_v), (c2_fit_t, c2_fit_v), (c3_fit_t, c3_fit_v)]),
    dict(name='1D', box=(615, 588, 1109, 1104), xr=(22, 204), yr=(0.954, 3.626), xl=('22.00', '204.0'),
         t=(t_cd, t_cd2), pts=[(d0_pts, d0_pts2), (d1_pts, d1_pts2), (d2_pts, d2_pts2), (d3_pts, d3_pts2)],
         fits=[(d0_fit_t, d0_fit_v), (d1_fit_t, d1_fit_v), (d2_fit_t, d2_fit_v), (d3_fit_t, d3_fit_v)]),
]

fig = plt.figure(figsize=(W / 100, H / 100), dpi=100)

for p in panels:
    l, t, r, b = p['box']
    ax = fig.add_axes([l / W, 1 - b / H, (r - l) / W, (b - t) / H])

    for even, odd in p['pts']:
        for tt, vv in zip(p['t'], (even, odd)):
            ax.plot(tt, vv, ls='none', marker='D', ms=2.3, mfc='none', mec=DOT, mew=0.6, zorder=2)
    for ft, fv in p['fits']:
        ax.plot(ft, fv, color=LINE, lw=0.9, zorder=3)

    ax.set_xlim(*p['xr'])
    ax.set_ylim(*p['yr'])
    ax.spines[['top', 'right']].set_visible(False)
    ax.spines['left'].set_color('#7a7a7a')
    ax.spines['left'].set_linewidth(1.4)
    ax.spines['bottom'].set_color('black')
    ax.spines['bottom'].set_linewidth(0.8)

    ax.set_xticks(p['xr'])
    ax.set_xticklabels(p['xl'])
    ax.set_yticks(p['yr'])
    ax.set_yticklabels(['%.3f' % v for v in p['yr']])
    ax.tick_params(axis='y', length=4, width=0.8, color='#555555', pad=1, labelsize=8.4, labelcolor='#333333')
    ax.tick_params(axis='x', length=3, width=0.8, color='black', pad=4, labelsize=8.4, labelcolor='#333333')

    fig.text((l - 43) / W, 1 - (t - 14) / H, 'relative parameter value', fontsize=7.6, color='#222222',
             ha='left', va='top')
    fig.text((l + r) / 2 / W, 1 - (b + 10) / H, 'time (s)', fontsize=7.6, color='#222222',
             ha='center', va='top')
    fig.text((l + 32) / W, 1 - (t + 8) / H, p['name'], fontsize=36, color='black', ha='left', va='top')

fig.savefig('out.png', dpi=100)
